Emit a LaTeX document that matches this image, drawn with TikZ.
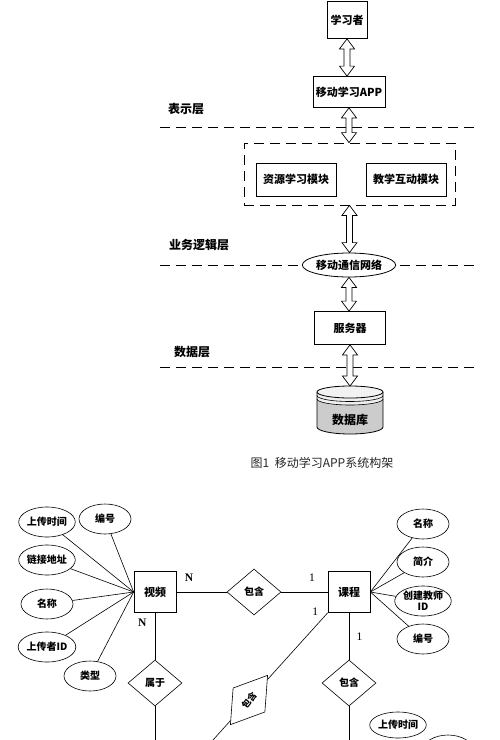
\documentclass[tikz,border=0pt]{standalone}
\usepackage{fontspec}
\setmainfont{Liberation Serif}
\newfontfamily\cjk{Noto Sans CJK SC}
\usetikzlibrary{shapes.geometric,calc}

% hollow two-way arrow between two nodes (vertical)
\newcommand{\blockarrow}[2]{%
  \draw[line width=0.7pt, fill=white] let \p1=(#1), \p2=(#2) in
    (\x1,\y1) -- ++(-7.5pt,-10pt) -- ++(4.5pt,0pt) -- (\x1-3pt,\y2+10pt)
    -- ++(-4.5pt,0pt) -- (\x1,\y2) -- ++(7.5pt,10pt) -- ++(-4.5pt,0pt)
    -- (\x1+3pt,\y1-10pt) -- ++(4.5pt,0pt) -- cycle;}

\tikzset{
  box/.style={draw, line width=0.8pt, fill=white, inner sep=2pt,
    font=\cjk\bfseries\fontsize{11}{13}\selectfont},
  layer/.style={font=\cjk\bfseries\fontsize{12}{14}\selectfont},
  sep/.style={line width=0.8pt, dash pattern=on 10pt off 6pt},
  ent/.style={draw, line width=0.7pt, fill=white, minimum width=42pt, minimum height=41pt,
    font=\cjk\bfseries\fontsize{11}{13}\selectfont},
  attr/.style={draw, ellipse, line width=0.6pt, fill=white, inner sep=0pt,
    minimum width=52pt, minimum height=30pt, align=center,
    font=\cjk\bfseries\fontsize{10}{11}\selectfont},
  rel/.style={draw, diamond, line width=0.6pt, fill=white, inner sep=0pt,
    minimum width=54pt, minimum height=46pt,
    font=\cjk\bfseries\fontsize{10}{12}\selectfont},
  card/.style={font=\fontsize{11.5}{13}\selectfont}
}

\begin{document}
\begin{tikzpicture}[x=1pt, y=1pt]
    \useasboundingbox (0,0) rectangle (500,-740);
    \clip (0,0) rectangle (500,-740);

    %Layers
    \draw[sep] (160,-127) -- (480,-127);
    \draw[sep] (160,-265) -- (480,-265);
    \draw[sep] (160,-367) -- (480,-367);
    \node[layer] at (186,-109) (l1) {表示层};
    \node[layer] at (199,-245) (l2) {业务逻辑层};
    \node[layer] at (192,-352) (l3) {数据层};

    %Nodes
    \node[box, minimum width=40pt, minimum height=37pt] at (347,-20) (lrn) {学习者};
    \node[box, minimum width=72pt, minimum height=31pt] at (349,-92) (app) {移动学习APP};
    \node[draw, sep, minimum width=211pt, minimum height=62pt] at (349.5,-174) (mods) {};
    \node[box, minimum width=80pt, minimum height=33pt] at (296,-179.5) (res) {资源学习模块};
    \node[box, minimum width=80pt, minimum height=33pt] at (406,-179.5) (tch) {教学互动模块};
    \node[box, ellipse, inner sep=0pt, minimum width=72pt, minimum height=24pt] at (349,-265) (net) {移动通信网络};
    \node[box, minimum width=71pt, minimum height=33pt] at (350,-328) (srv) {服务器};

    %Database
    \coordinate (dbtop) at (349,-386);
    \fill[gray!40] (317,-399) -- (317,-427) arc[start angle=180, end angle=360, x radius=33, y radius=7] -- (383,-399) -- cycle;
    \fill[gray!12] (317,-392) -- (317,-399) arc[start angle=180, end angle=360, x radius=33, y radius=6] -- (383,-392) -- cycle;
    \draw[line width=0.8pt] (317,-392) -- (317,-427) arc[start angle=180, end angle=360, x radius=33, y radius=7] -- (383,-392);
    \draw[line width=0.8pt, fill=gray!10] (350,-392) ellipse[x radius=33, y radius=6];
    \draw[line width=0.6pt] (317,-395.5) arc[start angle=180, end angle=360, x radius=33, y radius=6];
    \draw[line width=0.6pt] (317,-399) arc[start angle=180, end angle=360, x radius=33, y radius=6];
    \node[font=\cjk\bfseries\fontsize{12}{14}\selectfont] at (350,-420) (db) {数据库};

    %Arrows
    \blockarrow{lrn.south}{app.north}
    \blockarrow{app.south}{mods.north}
    \blockarrow{mods.south}{net.north}
    \blockarrow{net.south}{srv.north}
    \blockarrow{srv.south}{dbtop}

    \node[font=\cjk\fontsize{12}{14}\selectfont, text=black!85] at (322,-463) (cap) {图1\ \ 移动学习APP系统构架};

    %ER nodes
    \node[ent] at (155,-592) (sp) {视频};
    \node[ent] at (349,-592) (kc) {课程};

    \node[attr] at (47,-522) (a1) {上传时间};
    \node[attr] at (105,-519) (a2) {编号};
    \node[attr] at (47,-560) (a3) {链接地址};
    \node[attr] at (47,-604) (a4) {名称};
    \node[attr] at (47,-647) (a5) {上传者ID};
    \node[attr] at (90,-676) (a6) {类型};

    \node[attr] at (423,-524) (b1) {名称};
    \node[attr] at (423,-562) (b2) {简介};
    \node[attr] at (423,-601) (b3) {创建教师\\ID};
    \node[attr] at (423,-639) (b4) {编号};

    \node[rel] at (254,-592) (r1) {包含};
    \node[rel] at (155,-683) (r2) {属于};
    \node[rel] at (349,-683) (r3) {包含};
    \node[rel, rotate=53, minimum width=62pt, minimum height=40pt,
        font=\cjk\bfseries\fontsize{9}{10}\selectfont] at (249,-700) (r4) {包含};

    \node[attr, minimum height=26pt] at (398,-725) (c1) {上传时间};
    \node[attr, minimum height=34pt] at (448,-752) (c2) {};

    \coordinate (e2) at (155,-750);
    \coordinate (e3) at (349,-750);
    \coordinate (e4) at (204,-750);

    %ER lines
    \foreach \a in {a1,a2,a3,a4,a5,a6}
        \draw[line width=0.6pt] (\a) -- (sp.west);
    \foreach \b in {b1,b2,b3,b4}
        \draw[line width=0.6pt] (\b) -- (kc.east);
    \draw[line width=0.6pt] (sp) -- (r1) node [card, above=7pt, pos=0.25] {\textbf{N}};
    \draw[line width=0.6pt] (r1) -- (kc) node [card, above=7pt, pos=0.66] {1};
    \draw[line width=0.6pt] (sp) -- (r2) node [card, left=5pt, pos=0.22] {\textbf{N}};
    \draw[line width=0.6pt] (kc) -- (r3) node [card, right=4pt, pos=0.5] {1};
    \draw[line width=0.6pt] (kc.south west) -- (r4) node [card, above left, pos=0.1] {1};
    \draw[line width=0.6pt] (r2) -- (e2);
    \draw[line width=0.6pt] (r3) -- (e3);
    \draw[line width=0.6pt] (r4) -- (e4);
\end{tikzpicture}
\end{document}
